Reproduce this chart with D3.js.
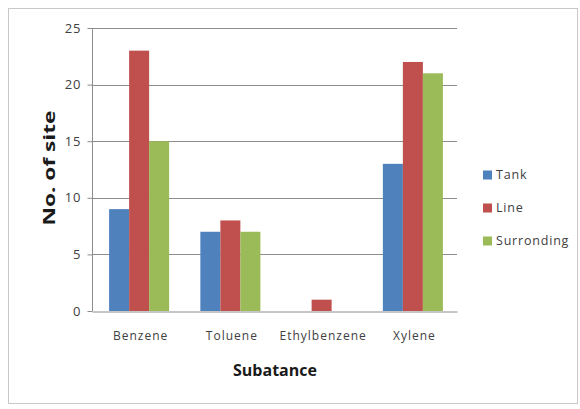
<!DOCTYPE html>
<html>
<head>
<meta charset="utf-8">
<script src="https://cdn.jsdelivr.net/npm/d3@7"></script>
<style>
html,body{margin:0;padding:0;background:#fff;}
svg{display:block;font-family:"Open Sans",sans-serif;}
</style>
</head>
<body>
<svg id="chart" width="580" height="409"></svg>
<script>
const categories = ["Benzene", "Toluene", "Ethylbenzene", "Xylene"];
const seriesNames = ["Tank", "Line", "Surronding"];
const tank = [9, 7, 0, 13];
const line = [23, 8, 1, 22];
const surronding = [15, 7, 0, 21];
const yTicks = [0, 5, 10, 15, 20, 25];
const colors = ["#4F81BD", "#C0504D", "#9BBB59"];

(function () {
const values = [tank, line, surronding];
const svg = d3.select("#chart");

svg.append("rect").attr("x", 8.5).attr("y", 8.5).attr("width", 569).attr("height", 395)
  .attr("fill", "#fff").attr("stroke", "#c8c8c8").attr("stroke-width", 1);

const pLeft = 92, pRight = 457, pTop = 28, pBottom = 311;
const x = d3.scaleBand().domain(categories).range([pLeft, pRight]).paddingInner(0).paddingOuter(0);
const xs = d3.scaleBand().domain(seriesNames).range([0, x.bandwidth()]).paddingInner(0).paddingOuter(0.78);
const y = d3.scaleLinear().domain([0, 25]).range([pBottom, pTop]);

// gridlines
svg.append("g").selectAll("line").data(yTicks.filter(d => d > 0)).join("line")
  .attr("x1", pLeft).attr("x2", pRight)
  .attr("y1", d => Math.round(y(d)) + 0.5).attr("y2", d => Math.round(y(d)) + 0.5)
  .attr("stroke", "#8c8c8c").attr("stroke-width", 1);

// bars
const g = svg.append("g");
categories.forEach((c, i) => {
  seriesNames.forEach((s, j) => {
    const v = values[j][i];
    if (v > 0) {
      g.append("rect")
        .attr("x", x(c) + xs(s) + 1.5).attr("width", xs.bandwidth())
        .attr("y", y(v)).attr("height", y(0) - y(v))
        .attr("fill", colors[j]);
    }
  });
});

// y axis
const yAxis = svg.append("g").attr("transform", `translate(${pLeft + 0.5},0)`)
  .call(d3.axisLeft(y).tickValues(yTicks).tickSize(5).tickPadding(6).tickFormat(d3.format("d")));
yAxis.select(".domain").attr("stroke", "#8c8c8c").attr("d", `M0,${pTop}V${pBottom}`);
yAxis.selectAll(".tick line").attr("stroke", "#8c8c8c");
yAxis.selectAll(".tick text").attr("fill", "#404040").style("font-size", "13px")
  .style("letter-spacing", "1px").style("font-family", "Open Sans, sans-serif");

// x axis
const xAxis = svg.append("g").attr("transform", `translate(0,${Math.round(pBottom) + 0.5})`)
  .call(d3.axisBottom(x).tickSize(0).tickPadding(20));
xAxis.select(".domain").attr("stroke", "#8c8c8c");
xAxis.selectAll(".tick text").attr("fill", "#404040").attr("dx", 3).style("font-size", "12px")
  .style("letter-spacing", "1px").style("font-family", "Open Sans, sans-serif");

// axis titles
svg.append("text").attr("x", 275).attr("y", 376).attr("text-anchor", "middle")
  .attr("font-weight", "bold").attr("font-size", 16).attr("fill", "#1a1a1a").text("Subatance");
svg.append("text").attr("transform", "translate(55,168) rotate(-90) scale(1.42,1)").attr("text-anchor", "middle")
  .attr("font-weight", "bold").attr("font-size", 16).attr("fill", "#1a1a1a").text("No. of site");

// legend
const legendY = d3.scalePoint().domain(seriesNames).range([175, 241]);
const lg = svg.append("g");
seriesNames.forEach((s, j) => {
  lg.append("rect").attr("x", 483).attr("y", legendY(s) - 4.5).attr("width", 9).attr("height", 9).attr("fill", colors[j]);
  lg.append("text").attr("x", 496).attr("y", legendY(s)).attr("dy", "0.35em")
    .attr("font-size", 12.5).attr("letter-spacing", 0.8).attr("fill", "#404040").text(s);
});
})();
</script>
</body>
</html>
